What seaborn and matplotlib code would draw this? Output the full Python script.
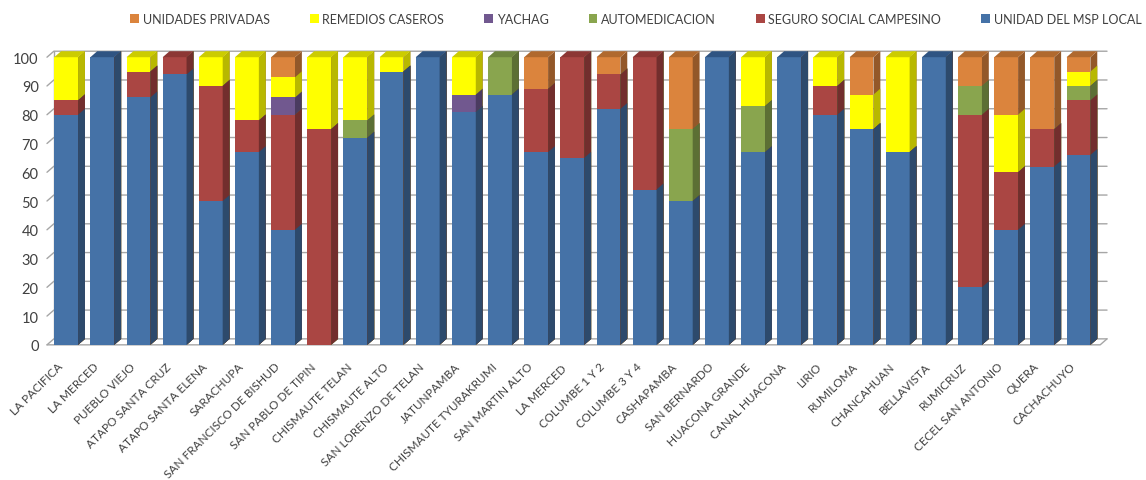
import matplotlib
matplotlib.use("Agg")
import matplotlib.pyplot as plt
import matplotlib.transforms as mtransforms
from matplotlib.patches import Patch, Polygon
import numpy as np
import pandas as pd
import seaborn as sns

categories = [
    "LA PACIFICA", "LA MERCED", "PUEBLO VIEJO", "ATAPO SANTA CRUZ", "ATAPO SANTA ELENA",
    "SARACHUPA", "SAN FRANCISCO DE BISHUD", "SAN PABLO DE TIPIN", "CHISMAUTE TELAN",
    "CHISMAUTE ALTO", "SAN LORENZO DE TELAN", "JATUNPAMBA", "CHISMAUTE TYURAKRUMI",
    "SAN MARTIN ALTO", "LA MERCED ", "COLUMBE 1 Y 2", "COLUMBE 3 Y 4", "CASHAPAMBA",
    "SAN BERNARDO", "HUACONA GRANDE", "CANAL HUACONA", "LIRIO", "RUMILOMA",
    "CHANCAHUAN", "BELLAVISTA", "RUMICRUZ", "CECEL SAN ANTONIO", "QUERA", "CACHACHUYO",
]
msp_local = [80, 100, 86, 94, 50, 67, 40, 0, 72, 95, 100, 81, 87, 67, 65, 82, 54, 50, 100, 67, 100, 80, 75, 67, 100, 20, 40, 62, 66]
seguro_campesino = [5, 0, 9, 6, 40, 11, 40, 75, 0, 0, 0, 0, 0, 22, 35, 12, 46, 0, 0, 0, 0, 10, 0, 0, 0, 60, 20, 13, 19]
automedicacion = [0, 0, 0, 0, 0, 0, 0, 0, 6, 0, 0, 0, 13, 0, 0, 0, 0, 25, 0, 16, 0, 0, 0, 0, 0, 10, 0, 0, 5]
yachag = [0, 0, 0, 0, 0, 0, 6, 0, 0, 0, 0, 6, 0, 0, 0, 0, 0, 0, 0, 0, 0, 0, 0, 0, 0, 0, 0, 0, 0]
remedios_caseros = [15, 0, 5, 0, 10, 22, 7, 25, 22, 5, 0, 13, 0, 0, 0, 0, 0, 0, 0, 17, 0, 10, 12, 33, 0, 0, 20, 0, 5]
unidades_privadas = [0, 0, 0, 0, 0, 0, 7, 0, 0, 0, 0, 0, 0, 11, 0, 6, 0, 25, 0, 0, 0, 0, 13, 0, 0, 10, 20, 25, 5]

# bottom -> top stacking order: (label, values, front, side, top)
layers = [
    ("UNIDAD DEL MSP LOCAL", msp_local, "#4572A7", "#2D4A6C", "#2F5482"),
    ("SEGURO SOCIAL CAMPESINO", seguro_campesino, "#AA4643", "#722E2D", "#8C3734"),
    ("AUTOMEDICACION", automedicacion, "#89A54E", "#5C6F34", "#6E853F"),
    ("YACHAG", yachag, "#71588F", "#4B3B60", "#5B4775"),
    ("REMEDIOS CASEROS", remedios_caseros, "#FFFF00", "#B8B800", "#CCCC00"),
    ("UNIDADES PRIVADAS", unidades_privadas, "#DB843D", "#935829", "#B0692E"),
]

sns.set_theme(style="white")
plt.rcParams["font.family"] = ["Lato", "DejaVu Sans"]
text_color = "#404040"

fig = plt.figure(figsize=(11.46, 4.81), dpi=100)
ax = fig.add_axes([0.041, 0.281, 0.919, 0.598])

bar_w = 0.66
dx, dy = 0.19, 2.08
xl, xr = -0.53, 28.6

df = pd.DataFrame({"categoria": categories})
cum = np.zeros(len(categories))
cums = []
for name, vals, *_ in layers:
    cum = cum + np.array(vals)
    cums.append(cum.copy())

# draw cumulative totals from the top layer down so lower layers sit in front
for k in range(len(layers) - 1, -1, -1):
    name, vals, front, side, top = layers[k]
    df["valor"] = cums[k]
    z = 10 + (len(layers) - k) * 2
    sns.barplot(data=df, x="categoria", y="valor", color=front, saturation=1,
                width=bar_w, ax=ax, zorder=z, linewidth=0, clip_on=False)
    for rect, c in zip(ax.containers[-1], cums[k]):
        if c <= 0:
            continue
        x1 = rect.get_x() + rect.get_width()
        poly = [(x1, 0), (x1 + dx, dy), (x1 + dx, c + dy), (x1, c)]
        ax.add_patch(Polygon(poly, closed=True, facecolor=side, edgecolor="none",
                             zorder=z + 1, clip_on=False))

# top faces, coloured by the highest non-empty layer
for i in range(len(categories)):
    k_top = max(k for k in range(len(layers)) if layers[k][1][i] > 0)
    x0 = i - bar_w / 2
    c = cums[k_top][i]
    poly = [(x0, c), (x0 + bar_w, c), (x0 + bar_w + dx, c + dy), (x0 + dx, c + dy)]
    ax.add_patch(Polygon(poly, closed=True, facecolor=layers[k_top][4], edgecolor="none",
                         zorder=30, clip_on=False))

# back wall gridlines and floor
grid_c = "#A6A6A6"
for v in range(0, 101, 10):
    ax.plot([xl, xl + dx, xr + dx], [v, v + dy, v + dy], color=grid_c, lw=1.0,
            zorder=1, clip_on=False)
ax.plot([xl + dx, xl + dx], [dy, 100 + dy], color=grid_c, lw=1.0, zorder=1, clip_on=False)
ax.plot([xl, xr, xr + dx], [0, 0, dy], color=grid_c, lw=1.0, zorder=1, clip_on=False)

ax.set_xlim(xl, xr)
ax.set_ylim(0, 100)
ax.set_yticks(range(0, 101, 10))
ax.tick_params(axis="y", length=0, pad=6, labelsize=10.5, labelcolor=text_color)
ax.tick_params(axis="x", length=0, pad=4, labelsize=8.5, labelcolor=text_color)
ax.set_xticks(range(len(categories)))
ax.set_xticklabels(categories, rotation=45, ha="right", rotation_mode="anchor")
shift = mtransforms.ScaledTranslation(-9 / 100, -10 / 100, fig.dpi_scale_trans)
for lab in ax.get_xticklabels():
    lab.set_transform(lab.get_transform() + shift)
ax.set_xlabel("")
ax.set_ylabel("")
for s in ax.spines.values():
    s.set_visible(False)

handles = [Patch(facecolor=l[2], edgecolor="none", label=l[0]) for l in layers[::-1]]
fig.legend(handles=handles, loc="upper center", bbox_to_anchor=(0.555, 0.995), ncol=6,
           frameon=False, fontsize=9, labelcolor=text_color, handlelength=0.7,
           handleheight=0.7, handletextpad=0.3, columnspacing=3.2)

fig.savefig("out.png", dpi=100)
